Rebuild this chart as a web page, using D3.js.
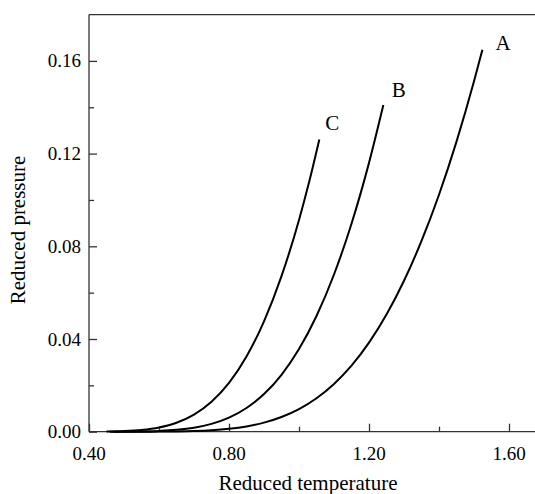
<!DOCTYPE html>
<html>
<head>
<meta charset="utf-8">
<script src="https://cdn.jsdelivr.net/npm/d3@7"></script>
<style>
  html, body { margin: 0; padding: 0; background: #fff; }
  svg { display: block; }
  text { font-family: "Liberation Serif", "Times New Roman", serif; fill: #000; }
</style>
</head>
<body>
<svg id="chart" width="535" height="494"></svg>
<script>
// Reduced vapour pressure vs reduced temperature, three curves
const curveA = [
  [0.47, 0.0], [0.55, 0.00001], [0.60, 0.00004], [0.65, 0.00012], [0.70, 0.00029],
  [0.75, 0.00063], [0.80, 0.00125], [0.85, 0.00229], [0.90, 0.00392], [0.95, 0.00634],
  [1.00, 0.00977], [1.05, 0.01445], [1.10, 0.02062], [1.15, 0.02853], [1.20, 0.03845],
  [1.25, 0.05056], [1.30, 0.06512], [1.35, 0.08231], [1.40, 0.10226], [1.45, 0.12517],
  [1.50, 0.15123], [1.524, 0.16486]
];
const curveB = [
  [0.46, 0.0], [0.50, 0.00003], [0.55, 0.00011], [0.60, 0.00032], [0.65, 0.00079],
  [0.70, 0.00171], [0.75, 0.00337], [0.80, 0.00607], [0.85, 0.01022], [0.90, 0.01623],
  [0.95, 0.02456], [1.00, 0.03564], [1.05, 0.04992], [1.10, 0.06783], [1.15, 0.08972],
  [1.20, 0.11600], [1.241, 0.14095]
];
const curveC = [
  [0.45, 0.00007], [0.50, 0.00026], [0.55, 0.00075], [0.60, 0.00183], [0.65, 0.00387],
  [0.70, 0.00738], [0.75, 0.01292], [0.80, 0.02107], [0.85, 0.03243], [0.90, 0.04761],
  [0.95, 0.06711], [1.00, 0.09139], [1.03, 0.10840], [1.058, 0.12605]
];
const curveNames = ["A", "B", "C"];
const curves = [curveA, curveB, curveC];

const xTicks = [0.40, 0.80, 1.20, 1.60];
const xMinorTicks = [0.60, 1.00, 1.40];
const yTicks = [0.00, 0.04, 0.08, 0.12, 0.16];
const yMinorTicks = [0.02, 0.06, 0.10, 0.14];

const svg = d3.select("#chart");
const plotLeft = 89, plotBottom = 431.7;

const x = d3.scaleLinear().domain([0.40, 1.68]).range([plotLeft, plotLeft + 1.28 * 350]);
const y = d3.scaleLinear().domain([0, 0.18]).range([plotBottom, plotBottom - 0.18 * 2317.5]);

const frame = svg.append("g").attr("stroke", "#333").attr("stroke-width", 1.3).attr("fill", "none");
frame.append("line").attr("x1", x(0.40)).attr("x2", x(1.68)).attr("y1", y(0.18)).attr("y2", y(0.18));
frame.append("line").attr("x1", x(1.68)).attr("x2", x(1.68)).attr("y1", y(0.18)).attr("y2", y(0));

// Bottom axis, ticks pointing inward
const xAxis = svg.append("g").attr("transform", `translate(0,${y(0)})`)
  .call(d3.axisTop(x).tickValues(xTicks).tickSize(8).tickFormat(""));
svg.append("g").attr("transform", `translate(0,${y(0)})`)
  .call(d3.axisTop(x).tickValues(xMinorTicks).tickSize(5).tickFormat(""))
  .select(".domain").remove();
svg.append("g").selectAll("text").data(xTicks).join("text")
  .attr("x", d => x(d)).attr("y", y(0) + 28)
  .attr("text-anchor", "middle").attr("font-size", 19)
  .text(d => d.toFixed(2));

// Left axis, ticks pointing inward
const yAxis = svg.append("g").attr("transform", `translate(${x(0.40)},0)`)
  .call(d3.axisRight(y).tickValues(yTicks).tickSize(8).tickFormat(""));
svg.append("g").attr("transform", `translate(${x(0.40)},0)`)
  .call(d3.axisRight(y).tickValues(yMinorTicks).tickSize(5).tickFormat(""))
  .select(".domain").remove();
svg.append("g").selectAll("text").data(yTicks).join("text")
  .attr("x", x(0.40) - 8).attr("y", d => y(d) + 6.5)
  .attr("text-anchor", "end").attr("font-size", 19)
  .text(d => d.toFixed(2));

svg.selectAll(".domain, .tick line").attr("stroke", "#333").attr("stroke-width", 1.3);
xAxis.select(".domain").attr("d", `M${x(0.40)},0H${x(1.68)}`);
yAxis.select(".domain").attr("d", `M0,${y(0)}V${y(0.18)}`);

// Curves
const line = d3.line().x(d => x(d[0])).y(d => y(d[1])).curve(d3.curveMonotoneX);
svg.append("g").selectAll("path").data(curves).join("path")
  .attr("d", line).attr("fill", "none").attr("stroke", "#000").attr("stroke-width", 2);

// Curve labels beside each end point (pixel offsets from the end of the curve)
const labelOffsets = [[13, 0], [8.5, -8.5], [6, -10]];
svg.append("g").selectAll("text").data(curves).join("text")
  .attr("x", (d, i) => x(d[d.length - 1][0]) + labelOffsets[i][0])
  .attr("y", (d, i) => y(d[d.length - 1][1]) + labelOffsets[i][1])
  .attr("font-size", 21)
  .text((d, i) => curveNames[i]);

// Axis titles
svg.append("text").attr("x", 308).attr("y", 490)
  .attr("text-anchor", "middle").attr("font-size", 21).text("Reduced temperature");
svg.append("text").attr("transform", "translate(25,230) rotate(-90)")
  .attr("text-anchor", "middle").attr("font-size", 21).text("Reduced pressure");
</script>
</body>
</html>
